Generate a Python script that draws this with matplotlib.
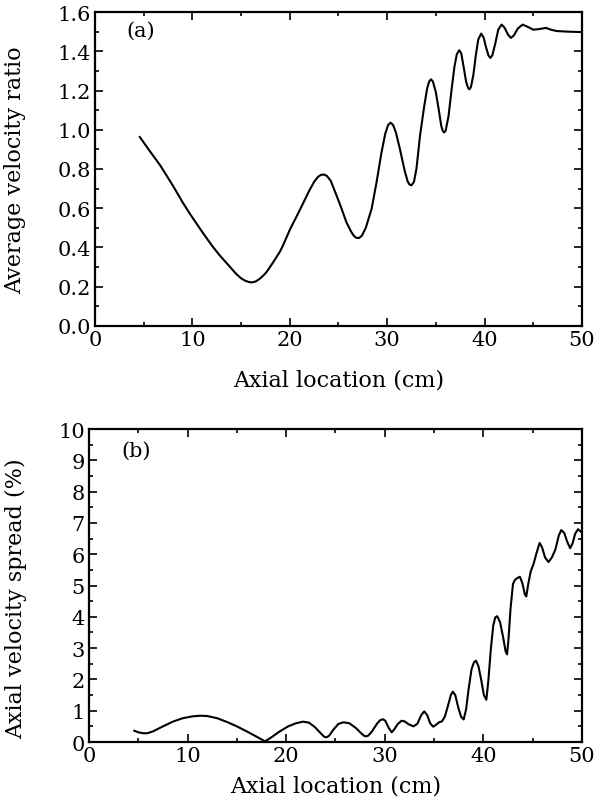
import matplotlib
matplotlib.use("Agg")
import matplotlib.pyplot as plt
from matplotlib.ticker import MultipleLocator

plt.rcParams["font.family"] = ["DejaVu Serif"]

# (a) average velocity ratio along the axis
pos_a = [4.6, 5.5, 6.7, 8.0, 9.0, 9.75, 11.0, 12.0, 12.8, 13.7, 14.5, 15.0, 15.4,
         15.8, 16.1, 16.5, 16.9, 17.3, 17.6, 18.3, 19.0, 19.3, 20.0, 21.0, 22.0,
         22.5, 22.9, 23.2, 23.5, 23.8, 24.2, 24.8, 25.3, 25.8, 26.3, 26.6, 26.85,
         27.1, 27.4, 27.8, 28.4, 28.9, 29.4, 29.8, 30.1, 30.35, 30.6, 30.9, 31.3,
         31.8, 32.1, 32.3, 32.5, 32.75, 33.0, 33.37, 33.8, 34.1, 34.3, 34.5, 34.7,
         35.0, 35.3, 35.55, 35.7, 35.85, 36.0, 36.3, 36.6, 36.9, 37.15, 37.4, 37.6,
         37.85, 38.1, 38.3, 38.45, 38.6, 38.85, 39.1, 39.35, 39.65, 39.9, 40.15,
         40.4, 40.6, 40.8, 41.1, 41.4, 41.75, 42.05, 42.4, 42.7, 43.0, 43.4, 43.9,
         44.4, 45.0, 45.6, 46.3, 46.8, 47.4, 48.5, 49.8]
ratio_a = [0.963, 0.90, 0.818, 0.715, 0.63, 0.571, 0.48, 0.41, 0.36, 0.31, 0.265,
           0.243, 0.231, 0.224, 0.222, 0.227, 0.24, 0.258, 0.274, 0.325, 0.38, 0.41,
           0.49, 0.588, 0.69, 0.735, 0.76, 0.77, 0.772, 0.765, 0.74, 0.665, 0.60,
           0.53, 0.48, 0.458, 0.449, 0.448, 0.46, 0.50, 0.597, 0.73, 0.88, 0.98,
           1.025, 1.036, 1.025, 0.985, 0.903, 0.79, 0.737, 0.72, 0.717, 0.735, 0.80,
           0.97, 1.12, 1.21, 1.245, 1.257, 1.245, 1.19, 1.10, 1.02, 0.995, 0.986,
           0.995, 1.07, 1.20, 1.32, 1.385, 1.405, 1.39, 1.32, 1.245, 1.213, 1.206,
           1.218, 1.28, 1.38, 1.46, 1.49, 1.47, 1.42, 1.378, 1.366, 1.38, 1.44,
           1.51, 1.536, 1.52, 1.485, 1.468, 1.48, 1.515, 1.536, 1.525, 1.51, 1.513,
           1.519, 1.51, 1.503, 1.500, 1.498]

# (b) axial velocity spread (%) along the axis
pos_b = [4.6, 5.0, 5.5, 5.9, 6.5, 7.5, 8.5, 9.5, 10.5, 11.3, 12.0, 13.0, 14.0, 15.0,
         16.0, 17.0, 17.85, 18.5, 19.3, 20.2, 21.0, 21.7, 22.3, 22.9, 23.5, 23.85,
         24.1, 24.35, 24.8, 25.3, 25.8, 26.4, 27.1, 27.6, 27.9, 28.1, 28.35, 28.7,
         29.2, 29.5, 29.8, 30.05, 30.4, 30.7, 30.95, 31.3, 31.7, 32.0, 32.4, 32.9,
         33.3, 33.7, 34.0, 34.3, 34.6, 34.9, 35.2, 35.5, 35.8, 36.1, 36.4, 36.7,
         36.9, 37.15, 37.45, 37.75, 38.0, 38.25, 38.5, 38.8, 39.05, 39.25, 39.5,
         39.8, 40.05, 40.3, 40.5, 40.75, 41.0, 41.2, 41.4, 41.7, 42.0, 42.25, 42.4,
         42.55, 42.75, 43.0, 43.2, 43.45, 43.7, 43.95, 44.2, 44.35, 44.55, 44.8,
         45.1, 45.4, 45.7, 45.95, 46.25, 46.6, 46.95, 47.3, 47.65, 47.9, 48.2, 48.5,
         48.8, 49.05, 49.3, 49.6, 49.95]
spread_b = [0.36, 0.31, 0.28, 0.28, 0.34, 0.50, 0.65, 0.76, 0.82, 0.84, 0.83, 0.76,
            0.64, 0.50, 0.34, 0.17, 0.02, 0.15, 0.33, 0.50, 0.60, 0.65, 0.62, 0.48,
            0.28, 0.17, 0.15, 0.20, 0.40, 0.58, 0.63, 0.60, 0.44, 0.28, 0.20, 0.18,
            0.21, 0.34, 0.58, 0.69, 0.73, 0.68, 0.45, 0.31, 0.40, 0.57, 0.68, 0.66,
            0.57, 0.50, 0.58, 0.86, 0.98, 0.86, 0.60, 0.49, 0.55, 0.63, 0.66, 0.82,
            1.15, 1.50, 1.61, 1.50, 1.10, 0.80, 0.72, 1.05, 1.69, 2.33, 2.55, 2.60,
            2.42, 1.95, 1.50, 1.35, 1.95, 2.95, 3.72, 3.98, 4.02, 3.82, 3.35, 2.90,
            2.80, 3.30, 4.25, 5.05, 5.18, 5.24, 5.28, 5.08, 4.72, 4.65, 5.05, 5.45,
            5.70, 6.05, 6.36, 6.22, 5.90, 5.75, 5.90, 6.15, 6.60, 6.77, 6.68, 6.40,
            6.19, 6.35, 6.65, 6.80, 6.70]

fig = plt.figure(figsize=(5.96, 8.03), dpi=100)
ax_a = fig.add_axes([0.1594, 0.5928, 0.8171, 0.3910])
ax_b = fig.add_axes([0.1493, 0.0747, 0.8272, 0.3898])


def style(ax, ymax, ymajor, yminor, yfmt):
    ax.set_xlim(0, 50)
    ax.set_ylim(0, ymax)
    ax.xaxis.set_major_locator(MultipleLocator(10))
    ax.xaxis.set_minor_locator(MultipleLocator(5))
    ax.yaxis.set_major_locator(MultipleLocator(ymajor))
    ax.yaxis.set_minor_locator(MultipleLocator(yminor))
    ax.yaxis.set_major_formatter(yfmt)
    ax.tick_params(which="both", direction="in", top=True, right=True,
                   labelsize=15, width=1.2, pad=3)
    ax.tick_params(which="major", length=6)
    ax.tick_params(which="minor", length=3)
    for sp in ax.spines.values():
        sp.set_linewidth(1.6)


ax_a.plot(pos_a, ratio_a, color="black", lw=1.5)
style(ax_a, 1.6, 0.2, 0.1, "{x:.1f}")
ax_a.set_xlabel("Axial location (cm)", fontsize=16, labelpad=14)
ax_a.set_ylabel("Average velocity ratio", fontsize=16)
ax_a.yaxis.set_label_coords(-0.142, 0.5)
ax_a.text(0.065, 0.925, "(a)", transform=ax_a.transAxes, fontsize=15)

ax_b.plot(pos_b, spread_b, color="black", lw=1.5)
style(ax_b, 10, 1, 0.5, "{x:.0f}")
ax_b.set_xlabel("Axial location (cm)", fontsize=16, labelpad=7)
ax_b.set_ylabel("Axial velocity spread (%)", fontsize=16)
ax_b.yaxis.set_label_coords(-0.126, 0.46)
ax_b.text(0.065, 0.915, "(b)", transform=ax_b.transAxes, fontsize=15)

fig.savefig("out.png", dpi=100)
